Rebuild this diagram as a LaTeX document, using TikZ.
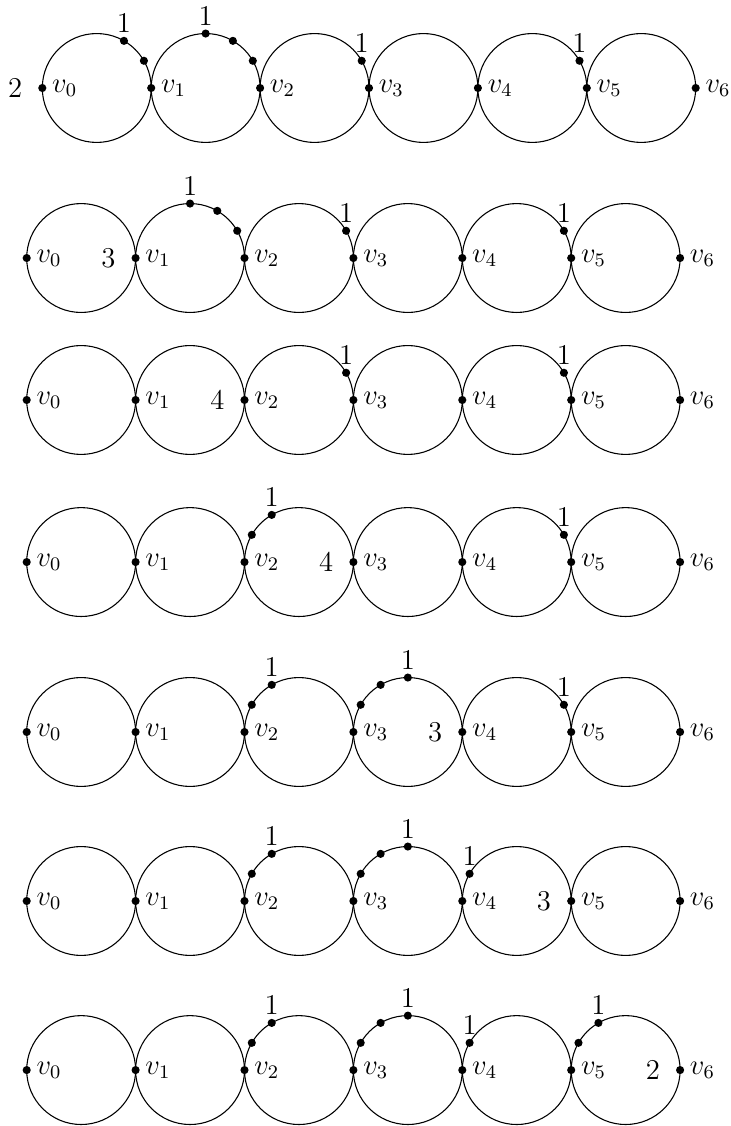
\documentclass[tikz,border=0pt]{standalone}
\usepackage{amsmath}
\usepackage{tikz}
\usetikzlibrary{positioning}
\tikzset{
  ring/.style = { line width=0.45pt },
  vert/.style = { circle, fill, inner sep=0pt, minimum size=3.4pt },
  chip/.style = { circle, fill, inner sep=0pt, minimum size=3.4pt },
  vlab/.style = { inner sep=3.33pt, font=\large },
  num/.style  = { inner sep=3.33pt, font=\large }
}

\begin{document}
\begin{tikzpicture}
\useasboundingbox (0,0) rectangle (10.726,-16.544);

% row a
\foreach \i in {0,...,5} {
  \coordinate (ac\i) at (0.6215+1.6*\i+0.8,-1.293);
  \draw[ring] (ac\i) circle (0.8);
}
\foreach \i in {0,...,6} {
  \node[vert] (a\i) at (0.6215+1.6*\i,-1.293) {};
  \node[vlab,right=-1.3pt of a\i] {$v_{\i}$};
}
\foreach \c/\ang in {0/60,0/30,1/90,1/60,1/30,2/30,4/30}
  \node[chip] (ap\c-\ang) at ([shift={(\ang:0.8)}]ac\c) {};
\foreach \c/\ang in {0/60,1/90,2/30,4/30}
  \node[num,above=-2pt of ap\c-\ang] {1};
\node[num,left=3pt of a0] {2};

% row b
\foreach \i in {0,...,5} {
  \coordinate (bc\i) at (0.3923+1.6*\i+0.8,-3.791);
  \draw[ring] (bc\i) circle (0.8);
}
\foreach \i in {0,...,6} {
  \node[vert] (b\i) at (0.3923+1.6*\i,-3.791) {};
  \node[vlab,right=-1.3pt of b\i] {$v_{\i}$};
}
\foreach \c/\ang in {1/90,1/60,1/30,2/30,4/30}
  \node[chip] (bp\c-\ang) at ([shift={(\ang:0.8)}]bc\c) {};
\foreach \c/\ang in {1/90,2/30,4/30}
  \node[num,above=-2pt of bp\c-\ang] {1};
\node[num,left=3pt of b1] {3};

% row c
\foreach \i in {0,...,5} {
  \coordinate (cc\i) at (0.3923+1.6*\i+0.8,-5.877);
  \draw[ring] (cc\i) circle (0.8);
}
\foreach \i in {0,...,6} {
  \node[vert] (c\i) at (0.3923+1.6*\i,-5.877) {};
  \node[vlab,right=-1.3pt of c\i] {$v_{\i}$};
}
\foreach \c/\ang in {2/30,4/30}
  \node[chip] (cp\c-\ang) at ([shift={(\ang:0.8)}]cc\c) {};
\foreach \c/\ang in {2/30,4/30}
  \node[num,above=-2pt of cp\c-\ang] {1};
\node[num,left=3pt of c2] {4};

% row d
\foreach \i in {0,...,5} {
  \coordinate (dc\i) at (0.3923+1.6*\i+0.8,-8.258);
  \draw[ring] (dc\i) circle (0.8);
}
\foreach \i in {0,...,6} {
  \node[vert] (d\i) at (0.3923+1.6*\i,-8.258) {};
  \node[vlab,right=-1.3pt of d\i] {$v_{\i}$};
}
\foreach \c/\ang in {2/150,2/120,4/30}
  \node[chip] (dp\c-\ang) at ([shift={(\ang:0.8)}]dc\c) {};
\foreach \c/\ang in {2/120,4/30}
  \node[num,above=-2pt of dp\c-\ang] {1};
\node[num,left=3pt of d3] {4};

% row e
\foreach \i in {0,...,5} {
  \coordinate (ec\i) at (0.3923+1.6*\i+0.8,-10.755);
  \draw[ring] (ec\i) circle (0.8);
}
\foreach \i in {0,...,6} {
  \node[vert] (e\i) at (0.3923+1.6*\i,-10.755) {};
  \node[vlab,right=-1.3pt of e\i] {$v_{\i}$};
}
\foreach \c/\ang in {2/150,2/120,3/150,3/120,3/90,4/30}
  \node[chip] (ep\c-\ang) at ([shift={(\ang:0.8)}]ec\c) {};
\foreach \c/\ang in {2/120,3/90,4/30}
  \node[num,above=-2pt of ep\c-\ang] {1};
\node[num,left=3pt of e4] {3};

% row f
\foreach \i in {0,...,5} {
  \coordinate (fc\i) at (0.3923+1.6*\i+0.8,-13.238);
  \draw[ring] (fc\i) circle (0.8);
}
\foreach \i in {0,...,6} {
  \node[vert] (f\i) at (0.3923+1.6*\i,-13.238) {};
  \node[vlab,right=-1.3pt of f\i] {$v_{\i}$};
}
\foreach \c/\ang in {2/150,2/120,3/150,3/120,3/90,4/150}
  \node[chip] (fp\c-\ang) at ([shift={(\ang:0.8)}]fc\c) {};
\foreach \c/\ang in {2/120,3/90,4/150}
  \node[num,above=-2pt of fp\c-\ang] {1};
\node[num,left=3pt of f5] {3};

% row g
\foreach \i in {0,...,5} {
  \coordinate (gc\i) at (0.3923+1.6*\i+0.8,-15.722);
  \draw[ring] (gc\i) circle (0.8);
}
\foreach \i in {0,...,6} {
  \node[vert] (g\i) at (0.3923+1.6*\i,-15.722) {};
  \node[vlab,right=-1.3pt of g\i] {$v_{\i}$};
}
\foreach \c/\ang in {2/150,2/120,3/150,3/120,3/90,4/150,5/150,5/120}
  \node[chip] (gp\c-\ang) at ([shift={(\ang:0.8)}]gc\c) {};
\foreach \c/\ang in {2/120,3/90,4/150,5/120}
  \node[num,above=-2pt of gp\c-\ang] {1};
\node[num,left=3pt of g6] {2};
\end{tikzpicture}
\end{document}
